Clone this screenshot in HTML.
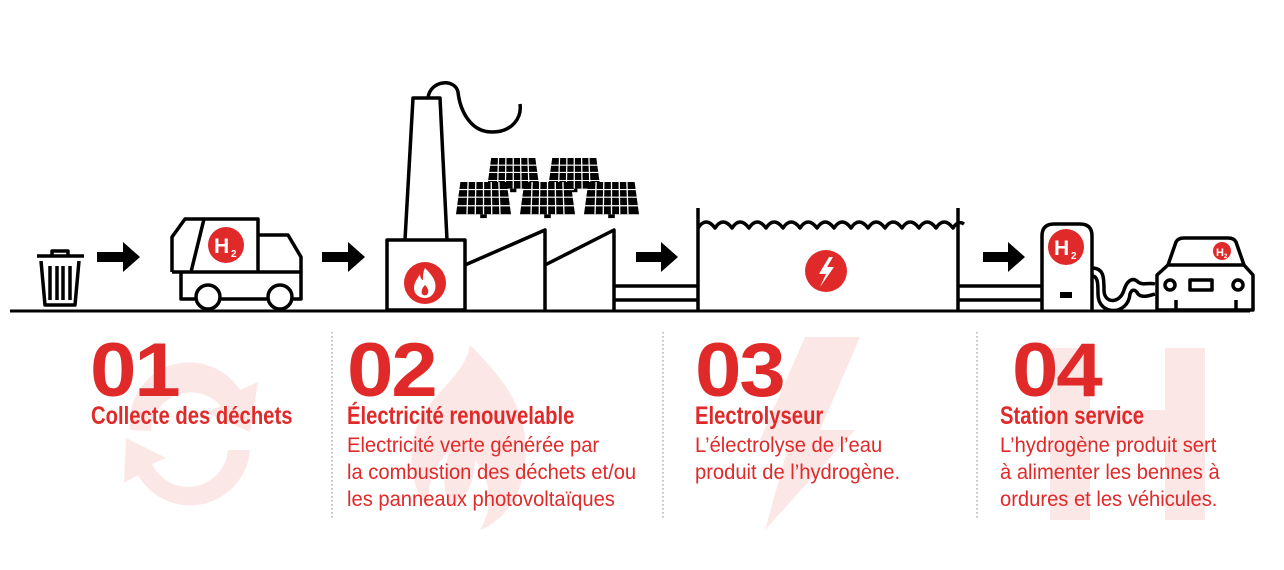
<!DOCTYPE html>
<html><head><meta charset="utf-8"><style>
html,body{margin:0;padding:0;background:#fff;}
body{width:1284px;height:570px;position:relative;overflow:hidden;font-family:"Liberation Sans",sans-serif;color:#e02a2a;}
svg{position:absolute;left:0;top:0;}
.num{position:absolute;font-weight:bold;font-size:76px;line-height:1;letter-spacing:-2px;transform:scaleX(1.1);transform-origin:left top;}
.t{position:absolute;font-family:"Liberation Sans",sans-serif;font-weight:bold;font-size:25px;line-height:26px;white-space:nowrap;transform:scaleX(0.81);transform-origin:left top;}
.b{position:absolute;font-family:"Liberation Sans",sans-serif;font-size:21px;line-height:27px;white-space:nowrap;transform:scaleX(0.96);transform-origin:left top;}
</style></head><body>
<svg width="1284" height="570" viewBox="0 0 1284 570">
<g fill="#fce7e7" stroke="none">
<path d="M130 430 a60 60 0 0 1 110 -40 l18 -8 -8 50 -45 -20 16 -6 a40 40 0 0 0 -70 25 z"/>
<path d="M250 450 a60 60 0 0 1 -112 25 l-14 8 2 -45 40 20 -14 6 a40 40 0 0 0 76 -14 z"/>
<path d="M470 345 c40 40 60 70 55 120 c-5 40 -30 60 -45 65 c15 -25 10 -50 -5 -70 c0 25 -10 40 -25 45 c-10 -20 -5 -40 0 -55 c-15 15 -25 35 -20 60 c-20 -20 -25 -60 -10 -90 c15 -30 45 -45 50 -75z"/>
<path d="M805 337 L860 337 L820 430 L855 430 L765 530 L790 440 L760 440 Z"/>
<rect x="1050" y="348" width="40" height="172"/><rect x="1165" y="348" width="40" height="172"/><rect x="1050" y="410" width="155" height="32"/>
</g>
<g stroke="#999" stroke-width="1.2" stroke-dasharray="1.5 2.5">
<line x1="332" y1="332" x2="332" y2="518"/><line x1="663" y1="332" x2="663" y2="518"/><line x1="977" y1="332" x2="977" y2="518"/>
</g>
<line x1="10" y1="311" x2="1250" y2="311" stroke="#000" stroke-width="3"/>
<g fill="none" stroke="#000" stroke-width="3.5" stroke-linejoin="round">
<line x1="37" y1="256" x2="84" y2="256"/>
<path d="M52 256 v-5 h16 v5"/>
<path d="M41 261 l4 44 h30 l4 -44"/>
<line x1="50" y1="266" x2="50" y2="300"/><line x1="57" y1="266" x2="57" y2="300"/><line x1="63" y1="266" x2="63" y2="300"/><line x1="70" y1="266" x2="70" y2="300"/>
<path d="M172 272 V237 L185 219 H258 V272"/>
<path d="M204 219 L191 272"/>
<path d="M258 235 H288 L301 257 V299 H292"/>
<path d="M172 272 H301"/>
<path d="M181 272 V299 H196 M220 299 H268"/>
<circle cx="208" cy="297" r="12" fill="#fff"/><circle cx="280" cy="297" r="12" fill="#fff"/>
<rect x="387" y="240" width="78" height="70"/>
<path d="M405 240 L413 98 H440 L447 240"/>
<path d="M428 98 C430 80 455 78 458 92 C460 110 470 132 492 132 C512 132 522 118 520 104"/>
<path d="M465 265 L545 230 V310 M545 265 L614 230 V310"/>
<path d="M614 286 H698 M614 300 H698"/>
<path d="M698 208 V310 M958 208 V310"/>
<path d="M698 228 q8 -12 17 0 q8 -12 17 0 q8 -12 17 0 q8 -12 17 0 q8 -12 17 0 q8 -12 17 0 q8 -12 17 0 q8 -12 17 0 q8 -12 17 0 q8 -12 17 0 q8 -12 17 0 q8 -12 17 0 q8 -12 17 0 q8 -12 17 0 q8 -12 17 0 q5 -8 11 -4"/>
<path d="M958 286 H1042 M958 300 H1042"/>
<path d="M1042 310 V236 q0 -12 12 -12 h26 q12 0 12 12 V310"/>
<path d="M1092 268 c12 0 12 10 12 22 c0 14 16 14 20 0 c4 -12 10 -12 14 -8 c6 4 10 0 17 2"/>
<path d="M1092 276 c6 0 6 8 6 18 c0 22 30 22 32 0 c2 -6 6 -4 8 0 c4 4 10 2 17 0"/>
<path d="M1157 310 V275 L1168 265 L1176 242 Q1178 238 1184 238 H1228 Q1234 238 1236 242 L1244 265 L1253 275 V310 Z"/>
<line x1="1168" y1="265" x2="1244" y2="265"/>
<path d="M1176 300 V310 M1236 300 V310"/>
<circle cx="1170" cy="285" r="5"/><circle cx="1238" cy="285" r="5"/>
<rect x="1190" y="280" width="22" height="10"/>
</g>
<rect x="1060" y="292" width="12" height="6" fill="#000"/>
<g fill="#000">
<path d="M97 252 h26 v-10 l17 15 -17 15 v-10 h-26z"/>
<path d="M322 252 h26 v-10 l17 15 -17 15 v-10 h-26z"/>
<path d="M636 252 h25 v-10 l17 15 -17 15 v-10 h-25z"/>
<path d="M983 252 h25 v-10 l17 15 -17 15 v-10 h-25z"/>
</g>
<defs>
<g id="sp">
<path d="M4 0 H46 L50 34 H0 Z" fill="#000"/>
<g stroke="#fff" stroke-width="1.2">
<line x1="1" y1="8" x2="49" y2="8"/><line x1="1" y1="16" x2="49" y2="16"/><line x1="1" y1="25" x2="49" y2="25"/>
<line x1="11" y1="0" x2="10" y2="34"/><line x1="18" y1="0" x2="17.5" y2="34"/><line x1="25" y1="0" x2="25" y2="34"/><line x1="32" y1="0" x2="32.5" y2="34"/><line x1="39" y1="0" x2="40" y2="34"/>
</g>
<rect x="22" y="34" width="6" height="4" fill="#000"/>
</g>
</defs>
<use href="#sp" transform="translate(487,158) scale(1.05,0.9)"/>
<use href="#sp" transform="translate(548,158) scale(1.05,0.9)"/>
<use href="#sp" transform="translate(456,182) scale(1.1,0.95)"/>
<use href="#sp" transform="translate(520,182) scale(1.1,0.95)"/>
<use href="#sp" transform="translate(584,182) scale(1.1,0.95)"/>
<g fill="#e02a2a">
<circle cx="226" cy="245" r="18"/><circle cx="425" cy="283" r="21"/><circle cx="826" cy="271" r="21"/><circle cx="1066" cy="247" r="18"/><circle cx="1222" cy="251" r="9"/>
</g>
<g fill="#fff" font-family="Liberation Sans,sans-serif" font-weight="bold">
<text x="214" y="253" font-size="21">H</text><text x="231" y="257" font-size="10">2</text>
<text x="1054" y="255" font-size="21">H</text><text x="1071" y="259" font-size="10">2</text>
<text x="1216" y="256" font-size="11">H</text><text x="1224" y="258" font-size="6">2</text>
<path d="M425 268 c8 8 12 14 10 22 c-2 6 -6 8 -10 8 c-6 0 -11 -4 -11 -10 c0 -6 4 -10 6 -14 c0 4 2 6 3 6 c0 -4 0 -8 2 -12z M425 285 c-3 3 -4 6 -3 9 c2 2 5 2 6 -1 c1 -3 -1 -6 -3 -8z" fill-rule="evenodd"/>
<path d="M829 257 L819 274 H826 L820 287 L834 267 H827 L833 257 Z"/>
</g>
</svg>
<div class="num" style="left:90px;top:333px;">01</div>
<div class="num" style="left:347px;top:333px;">02</div>
<div class="num" style="left:695px;top:333px;">03</div>
<div class="num" style="left:1012px;top:333px;">04</div>
<div class="t" style="left:91px;top:403px;">Collecte des déchets</div>
<div class="t" style="left:347px;top:403px;">Électricité renouvelable</div>
<div class="t" style="left:695px;top:403px;">Electrolyseur</div>
<div class="t" style="left:1000px;top:403px;">Station service</div>
<div class="b" style="left:347px;top:432px;">Electricité verte générée par<br>la combustion des déchets et/ou<br>les panneaux photovoltaïques</div>
<div class="b" style="left:695px;top:432px;">L’électrolyse de l’eau<br>produit de l’hydrogène.</div>
<div class="b" style="left:1000px;top:432px;">L’hydrogène produit sert<br>à alimenter les bennes à<br>ordures et les véhicules.</div>
</body></html>
